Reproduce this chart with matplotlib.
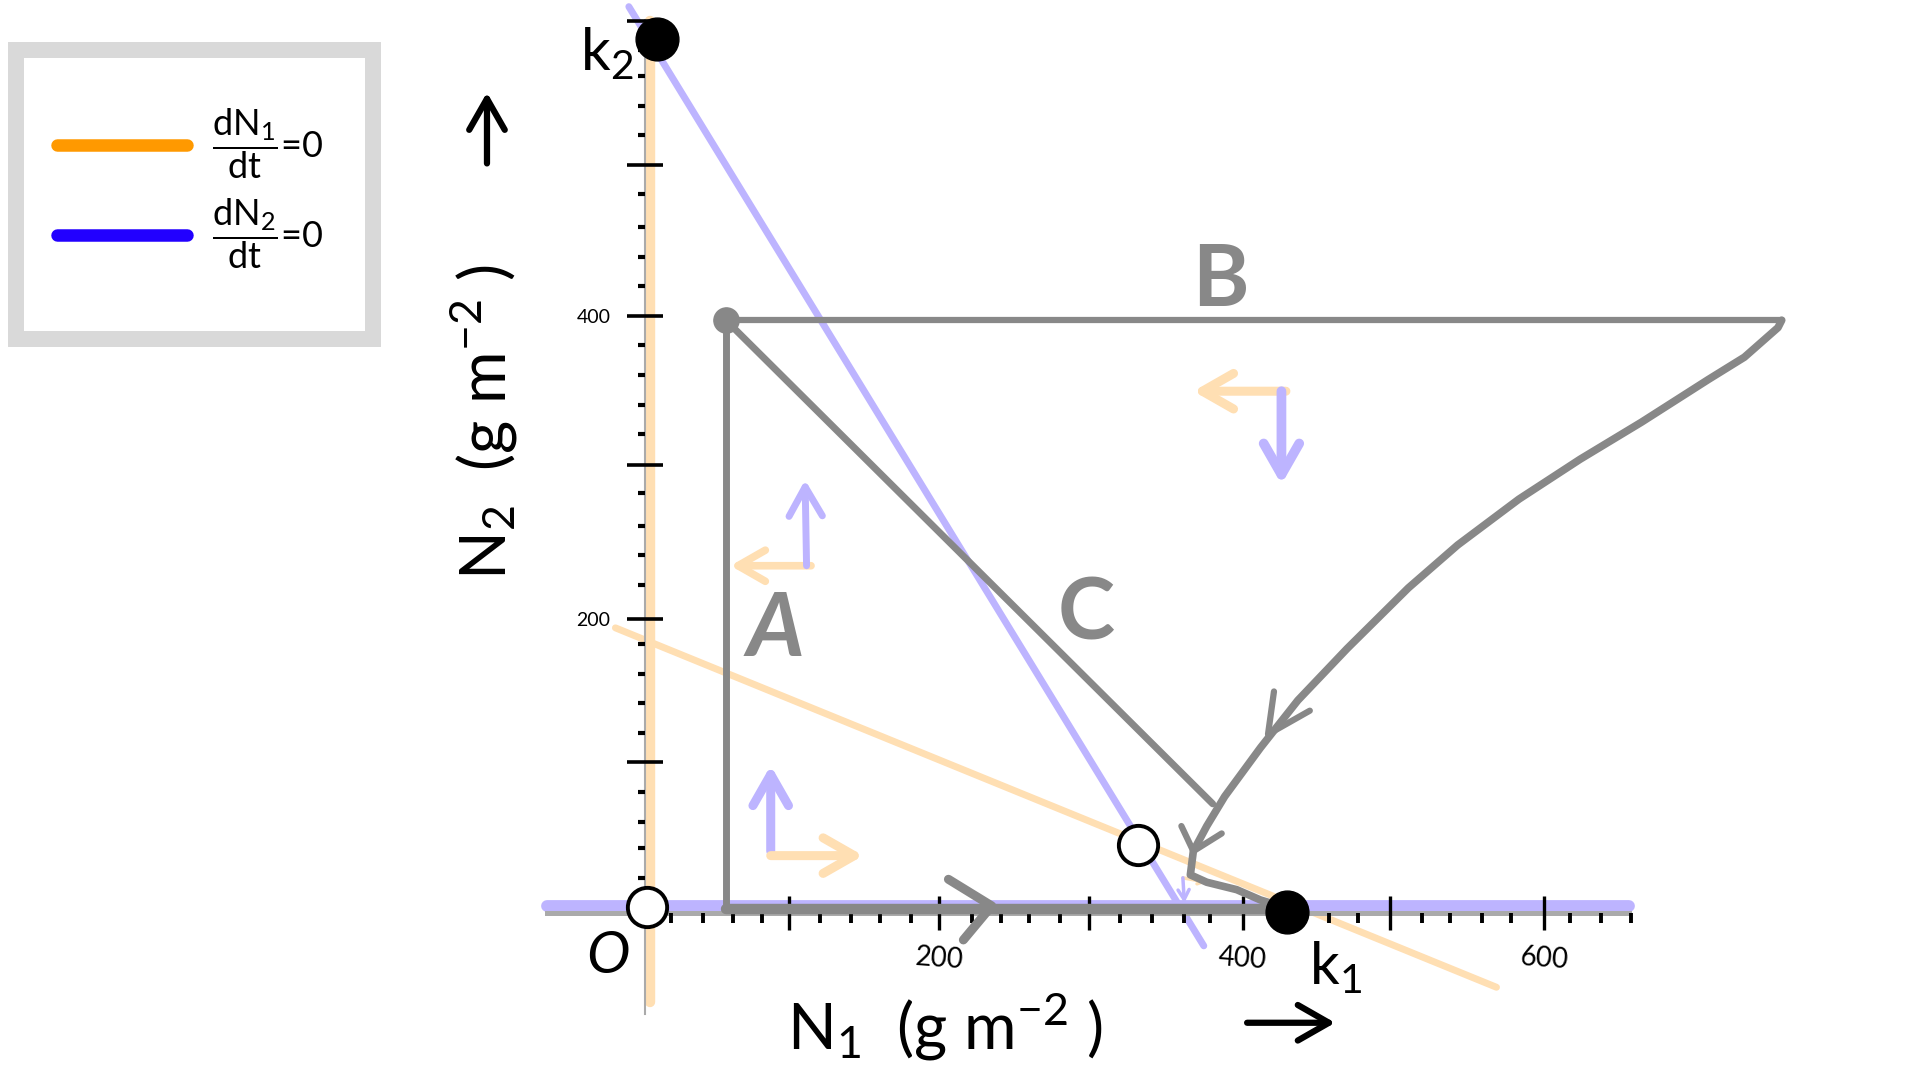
import matplotlib
matplotlib.use("Agg")
import matplotlib.pyplot as plt
from matplotlib.lines import Line2D
from matplotlib.patches import Rectangle

plt.rcParams['font.family'] = ['Lato', 'DejaVu Sans']
plt.rcParams['mathtext.default'] = 'regular'

# Isoclines (N1, N2 in g m-2)
iso1_axis_x = [3, 3]
iso1_axis_y = [-64, 599]
iso1_x = [-20, 570]
iso1_y = [189, -54]
iso2_axis_x = [-66, 659]
iso2_axis_y = [1, 1]
iso2_x = [-11, 374]
iso2_y = [609, -26]

# Trajectories
traj_a_x = [54, 54]
traj_a_y = [0, 397]
traj_a_axis_x = [54, 425]
traj_a_axis_y = [-1, -1]
traj_b_top_x = [54, 761]
traj_b_top_y = [397, 397]
traj_b_x = [761, 758.5, 736, 712, 667, 626, 585, 544, 511, 470, 437, 412, 388, 376, 367, 365, 376, 396, 412, 425]
traj_b_y = [397, 392, 372, 357, 328, 303, 276, 245, 216, 175, 140, 108, 75, 55, 38, 22, 17, 12, 5, 1]
traj_c_x = [54, 380]
traj_c_y = [397, 70]
chevrons = [
    ([203, 232, 213], [19, 1, -22], 6.5),
    ([421, 417, 445], [146, 117, 133], 4.5),
    ([359, 367, 386], [55, 38, 50], 4.5),
]

# Equilibria
stable_x = [430, 8]
stable_y = [-3, 587]
unstable_x = [1, 330]
unstable_y = [0, 42]
start_x = [54]
start_y = [397]

# Ticks
x_major = [96, 197, 297, 400, 499, 602]
x_major_labels = ['', '200', '', '400', '', '600']
x_minor = [17, 38.6, 58.6, 78, 117, 138, 157, 178, 219, 238, 257, 278, 318, 339, 361, 378, 458, 477, 520, 539, 560, 580, 619, 640, 660]
y_major = [98, 195, 299, 400, 502, 599]
y_major_labels = ['', '200', '', '400', '', '']
y_minor = [20, 40, 58, 78, 118, 138, 158, 178, 218, 238, 258, 280, 320, 340, 360, 380, 420, 440, 460, 482, 522, 542, 562, 580]

# Direction arrows: start, end, colour, width, head size
ORANGE_L = '#FFDFB3'
BLUE_L = '#BDB4FF'
arrows = [
    ((429, 349), (367, 349), ORANGE_L, 6.5, 32),
    ((426, 349), (426, 286), BLUE_L, 7, 32),
    ((111, 231), (57, 231), ORANGE_L, 5.5, 28),
    ((108, 231), (107, 289), BLUE_L, 5, 30),
    ((84, 38), (84, 96), BLUE_L, 6.5, 32),
    ((84, 35), (146, 35), ORANGE_L, 6.5, 32),
    ((360, 20), (376, 17), ORANGE_L, 2.5, 6),
    ((360, 20), (361, 3), BLUE_L, 2.5, 10),
    ((-106, 503), (-106, 551), 'black', 4.5, 32),
    ((403, -78), (462, -78), 'black', 4.5, 32),
]

fig = plt.figure(figsize=(19.2, 10.8), dpi=100)
ax = fig.add_axes([0, 0, 1, 1])
ax.set_xlim(-432.1, 853.6)
ax.set_ylim(-116.7, 613.5)
ax.patch.set_alpha(0)
ax.set_axisbelow(False)

GREY = '#888888'
for xs, ys, c, lw in [
    (iso1_axis_x, iso1_axis_y, ORANGE_L, 7.5),
    (iso1_x, iso1_y, ORANGE_L, 5),
    (iso2_axis_x, iso2_axis_y, BLUE_L, 8.5),
    (iso2_x, iso2_y, BLUE_L, 5),
]:
    ax.plot(xs, ys, color=c, lw=lw, solid_capstyle='round', zorder=1.5)

for xs, ys, lw in [
    (traj_a_x, traj_a_y, 5),
    (traj_a_axis_x, traj_a_axis_y, 7.5),
    (traj_b_top_x, traj_b_top_y, 4.5),
    (traj_b_x, traj_b_y, 5.5),
    (traj_c_x, traj_c_y, 5),
]:
    ax.plot(xs, ys, color=GREY, lw=lw, solid_capstyle='round', solid_joinstyle='round', zorder=3.5)
for xs, ys, lw in chevrons:
    ax.plot(xs, ys, color=GREY, lw=lw, solid_capstyle='round', zorder=3.5)

for start, end, c, lw, ms in arrows:
    ax.annotate('', xy=end, xytext=start, zorder=3,
                arrowprops=dict(arrowstyle='->,head_length=0.7,head_width=0.4', color=c, lw=lw,
                                mutation_scale=ms, shrinkA=0, shrinkB=0))

ax.scatter(start_x, start_y, s=330, color=GREY, zorder=4)
ax.scatter(stable_x, stable_y, s=950, color='black', zorder=5)
ax.scatter(unstable_x, unstable_y, s=800, facecolor='white', edgecolor='black', linewidth=2.8, zorder=5)

# Axes
for s in ('top', 'right'):
    ax.spines[s].set_visible(False)
ax.spines['bottom'].set_position(('data', -4))
ax.spines['bottom'].set_bounds(-66, 659)
ax.spines['bottom'].set_color('#AAAAAA')
ax.spines['bottom'].set_linewidth(3.6)
ax.spines['left'].set_position(('data', 0))
ax.spines['left'].set_bounds(-72, 600)
ax.spines['left'].set_color('#AAAAAA')
ax.spines['left'].set_linewidth(1.5)

ax.set_xticks(x_major, x_major_labels)
ax.set_xticks(x_minor, minor=True)
ax.set_yticks(y_major, y_major_labels)
ax.set_yticks(y_minor, minor=True)
ax.tick_params(axis='x', which='major', direction='inout', length=24, width=2.4, pad=10, labelsize=20, labelrotation=-4)
ax.tick_params(axis='x', which='minor', direction='out', length=7, width=2.8)
ax.tick_params(axis='y', which='major', direction='inout', length=26, width=2.6, pad=12, labelsize=14)
ax.tick_params(axis='y', which='minor', direction='out', length=5, width=3)

ax.set_xlabel('N$_1$  (g m$^{-2}$ )', fontsize=46)
ax.xaxis.set_label_coords(0.492, 0.05)
ax.xaxis.label.set_verticalalignment('center')
ax.set_ylabel('N$_2$  (g m$^{-2}$ )', fontsize=46)
ax.yaxis.set_label_coords(0.252, 0.609)
ax.yaxis.label.set_verticalalignment('center')

ax.text(-25, -33, 'O', fontsize=42, style='italic', ha='center', va='center')
ax.text(462, -40, 'k$_1$', fontsize=42, ha='center', va='center')
ax.text(-26, 578, 'k$_2$', fontsize=42, ha='center', va='center')
ax.text(385, 423, 'B', fontsize=62, color=GREY, fontweight='bold', ha='center', va='center')
ax.text(295, 198, 'C', fontsize=62, color=GREY, fontweight='bold', ha='center', va='center')
ax.text(87, 187, 'A', fontsize=64, color=GREY, fontweight='bold', style='italic', ha='center', va='center')

# Legend box
ax.add_patch(Rectangle((16 / 1920, 1 - 339 / 1080), 357 / 1920, 289 / 1080, transform=ax.transAxes,
                       facecolor='white', edgecolor='#D9D9D9', lw=11.5, zorder=6))
handles = [Line2D([], [], color='#FF9900', lw=9, solid_capstyle='round'),
           Line2D([], [], color='#2200FF', lw=9, solid_capstyle='round')]
labels = [r'$\dfrac{dN_1}{dt}$=0', r'$\dfrac{dN_2}{dt}$=0']
leg = ax.legend(handles, labels, frameon=False, fontsize=26, loc='upper left',
                bbox_to_anchor=(57 / 1920, 1 - 106 / 1080), bbox_transform=ax.transAxes,
                borderaxespad=0, borderpad=0, handlelength=3.6, handletextpad=0.7, labelspacing=0.42)
leg.set_zorder(7)

fig.savefig('out.png', dpi=100, facecolor='white')
